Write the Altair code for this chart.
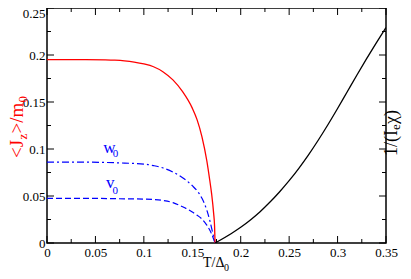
import altair as alt
import pandas as pd

# ---- data ----
red_T = [0, 0.02, 0.04, 0.06, 0.07, 0.08, 0.09, 0.1, 0.11, 0.12, 0.13, 0.14, 0.15,
         0.155, 0.16, 0.165, 0.168, 0.17, 0.172, 0.173, 0.1735]
red_v = [0.195, 0.195, 0.195, 0.1948, 0.1945, 0.1938, 0.1925, 0.1905, 0.1875, 0.182,
         0.1735, 0.161, 0.1435, 0.131, 0.113, 0.0875, 0.067, 0.052, 0.032, 0.018, 0.0]

w_T = [0, 0.04, 0.08, 0.1, 0.11, 0.12, 0.13, 0.14, 0.15, 0.155, 0.16, 0.165, 0.168, 0.171, 0.1735]
w_v = [0.086, 0.086, 0.085, 0.084, 0.0823, 0.0798, 0.0755, 0.0695, 0.061, 0.0555, 0.0475,
       0.035, 0.0243, 0.011, 0.0]

v_T = [0, 0.04, 0.08, 0.1, 0.11, 0.12, 0.13, 0.14, 0.15, 0.155, 0.16, 0.165, 0.17, 0.1735]
v_v = [0.0475, 0.0475, 0.047, 0.0467, 0.0463, 0.0452, 0.043, 0.0385, 0.033, 0.0295, 0.0255,
       0.019, 0.0095, 0.0]

blk_T = [0.1735, 0.19, 0.2, 0.21, 0.22, 0.23, 0.24, 0.25, 0.26, 0.27, 0.28, 0.29, 0.3,
         0.31, 0.32, 0.33, 0.34, 0.35]
blk_v = [0.0, 0.0099, 0.0167, 0.0245, 0.0333, 0.0433, 0.0543, 0.0663, 0.0795, 0.0938, 0.1093,
         0.1258, 0.1431, 0.1609, 0.1787, 0.1961, 0.2129, 0.2292]

x_major = [0, 0.05, 0.1, 0.15, 0.2, 0.25, 0.3, 0.35]
x_minor = [0.025, 0.075, 0.125, 0.175, 0.225, 0.275, 0.325]
y_major = [0, 0.05, 0.1, 0.15, 0.2, 0.25]
y_minor = [0.025, 0.075, 0.125, 0.175, 0.225]

lbl_w = {"t": [0.058], "v": [0.096]}
lbl_v = {"t": [0.061], "v": [0.058]}

W, H = 339, 235
SERIF = "Liberation Serif"

xs = alt.Scale(domain=[0, 0.35], nice=False, zero=False)
ys = alt.Scale(domain=[0, 0.25], nice=False, zero=False)

X_AX = alt.Axis(values=x_major, format=".2~f", ticks=False, domain=False, grid=False,
                labelFlush=False, labelOverlap=False, labelFont=SERIF, labelFontSize=13,
                labelColor="black", labelPadding=3, title=None)
Y_AX = alt.Axis(values=y_major, format=".2~f", ticks=False, domain=False, grid=False,
                labelOverlap=False, labelFont=SERIF, labelFontSize=13,
                labelColor="black", labelPadding=2, title=None,
                labelOffset={"condition": {"test": "datum.value >= 0.249", "value": 5}, "value": 0})

def X(f="t"):
    return alt.X(f"{f}:Q", scale=xs, axis=X_AX)

def Y(f="v"):
    return alt.Y(f"{f}:Q", scale=ys, axis=Y_AX)

def curve(T, V, color, dash=None, width=1.3):
    df = pd.DataFrame({"t": T, "v": V})
    kw = dict(color=color, strokeWidth=width, clip=True, interpolate="monotone")
    if dash:
        kw["strokeDash"] = dash
    return alt.Chart(df).mark_line(**kw).encode(x=X(), y=Y())

def xticks(vals, length):
    df = pd.DataFrame({"t": vals})
    bot = alt.Chart(df).mark_rule(color="black", strokeWidth=1).encode(
        x=X(), y=alt.value(H), y2=alt.value(H - length))
    top = alt.Chart(df).mark_rule(color="black", strokeWidth=1).encode(
        x=X(), y=alt.value(0), y2=alt.value(length))
    return [bot, top]

def yticks(vals, length):
    df = pd.DataFrame({"v": vals})
    left = alt.Chart(df).mark_rule(color="black", strokeWidth=1).encode(
        y=Y(), x=alt.value(0), x2=alt.value(length))
    right = alt.Chart(df).mark_rule(color="black", strokeWidth=1).encode(
        y=Y(), x=alt.value(W), x2=alt.value(W - length))
    return [left, right]

one = pd.DataFrame({"a": [0]})

def ptext(txt, x, y, size, color="black", angle=0):
    kw = dict(text=txt, font=SERIF, fontSize=size, color=color, align="left", baseline="alphabetic")
    if angle:
        kw["angle"] = angle
    return alt.Chart(one).mark_text(**kw).encode(x=alt.value(x), y=alt.value(y))

def dtext(d, txt, size, dx=0, dy=0, color="blue"):
    return alt.Chart(pd.DataFrame(d)).mark_text(
        text=txt, font=SERIF, fontSize=size, color=color, align="left", baseline="alphabetic",
        dx=dx, dy=dy).encode(x=X(), y=Y())

layers = []
layers += xticks(x_major, 7) + xticks(x_minor, 4) + yticks(y_major, 7) + yticks(y_minor, 4)
layers += [
    curve(v_T, v_v, "#0000ff", [6, 3], 1.2),
    curve(w_T, w_v, "#0000ff", [7, 3, 2, 3], 1.2),
    curve(red_T, red_v, "#ff0000"),
    curve(blk_T, blk_v, "black"),
    dtext(lbl_w, "w", 17),
    dtext(lbl_w, "0", 11, dx=9.5, dy=4.5),
    dtext(lbl_v, "v", 17),
    dtext(lbl_v, "0", 11, dx=6.5, dy=6),
    # left title <J_z>/m_0
    ptext("<J", -24, 150, 19, "#ff0000", 270),
    ptext("z", -20, 131.5, 13, "#ff0000", 270),
    ptext(">/m", -24, 125.5, 19, "#ff0000", 270),
    ptext("0", -20, 94.5, 13, "#ff0000", 270),
    # right title 1/(I_e chi)
    ptext("1/(I", 350, 148, 18, "black", 270),
    ptext("e", 353, 122, 13, "black", 270),
    ptext("\u03c7)", 350, 116, 18, "black", 270),
    # x title T/Delta_0
    ptext("T/\u0394", 156, 259, 14),
    ptext("0", 177, 263, 10),
]

chart = alt.layer(*layers).properties(
    width=W, height=H,
    autosize=alt.AutoSizeParams(type="none"),
    padding={"left": 39, "top": 0, "right": 16, "bottom": 28},
).configure_view(stroke="black", strokeWidth=1.5)

chart.save("out.html", embed_options={"renderer": "svg", "actions": False})
